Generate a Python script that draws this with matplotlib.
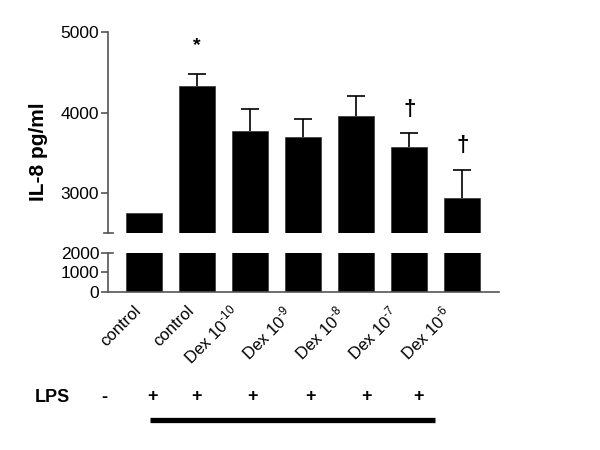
import matplotlib
matplotlib.use("Agg")
import matplotlib.pyplot as plt
from matplotlib.lines import Line2D
import matplotlib.transforms as mtransforms

plt.rcParams['font.family'] = ['Liberation Sans', 'DejaVu Sans']
plt.rcParams['mathtext.fontset'] = 'custom'
plt.rcParams['mathtext.rm'] = 'Liberation Sans'

# ---- data ----
categories = ['control', 'control', 'Dex 10$^{\\text{-10}}$', 'Dex 10$^{\\text{-9}}$',
              'Dex 10$^{\\text{-8}}$', 'Dex 10$^{\\text{-7}}$', 'Dex 10$^{\\text{-6}}$']
means = [2750, 4340, 3780, 3700, 3960, 3570, 2945]
errors = [0, 150, 270, 225, 245, 180, 350]
marks = ['', '*', '', '', '', '\u2020', '\u2020']
lps = ['-', '+', '+', '+', '+', '+', '+']
upper_ticks = [3000, 4000, 5000]
lower_ticks = [0, 1000, 2000]

# ---- layout ----
W, H = 600, 450
fig = plt.figure(figsize=(6, 4.5), dpi=100)
left, width = 108.3 / W, (499 - 108.3) / W
ax_up = fig.add_axes([left, 1 - 233.5 / H, width, (233.5 - 32.5) / H])
ax_lo = fig.add_axes([left, 1 - 291.7 / H, width, (291.7 - 253.3) / H])

x = list(range(len(means)))
spine_col = '#555555'
xlim = (-0.673, 6.69)
bar_w = 0.68

for ax in (ax_up, ax_lo):
    ax.bar(x, means, width=bar_w, color='black', edgecolor='#333333', linewidth=0.5, zorder=2)
    ax.set_xlim(*xlim)
    for s in ('top', 'right'):
        ax.spines[s].set_visible(False)
    ax.spines['left'].set_color(spine_col)
    ax.spines['left'].set_linewidth(1.2)
    ax.tick_params(axis='y', colors=spine_col, labelcolor='black', labelsize=12.5,
                   length=5, width=1.2, pad=1.5)

# error bars (upper direction only)
tops = [m + e for m, e in zip(means, errors)]
for i in x:
    if errors[i] > 0:
        ax_up.vlines(i, means[i], tops[i], color='black', lw=1.2, zorder=3)
        ax_up.hlines(tops[i], i - bar_w / 4, i + bar_w / 4, color='black', lw=1.2, zorder=3)

ax_up.set_ylim(2500, 5000)
ax_up.set_yticks(upper_ticks)
ax_up.spines['bottom'].set_visible(False)
ax_up.set_xticks([])

ax_lo.set_ylim(0, 2000)
ax_lo.set_yticks(lower_ticks)
ax_lo.spines['bottom'].set_color(spine_col)
ax_lo.spines['bottom'].set_linewidth(1.2)
ax_lo.set_xticks(x)
ax_lo.set_xticklabels([])
ax_lo.tick_params(axis='x', length=0)

# break marks
ax_up.add_line(Line2D([-0.011, 0.013], [0, 0], transform=ax_up.transAxes,
                      color=spine_col, lw=1.2, clip_on=False))
ax_lo.add_line(Line2D([0.0, 0.013], [1, 1], transform=ax_lo.transAxes,
                      color=spine_col, lw=1.2, clip_on=False))

# rotated category labels
for i, lab in enumerate(categories):
    dx = 0 if '$' not in lab else -6
    off = mtransforms.ScaledTranslation(dx / 100, -11 / 100, fig.dpi_scale_trans)
    ax_lo.text(i, 0, lab, rotation=45, ha='right', va='top', fontsize=12,
               transform=ax_lo.transData + off)

# significance marks
for i, m in enumerate(marks):
    if m:
        ax_up.annotate(m, xy=(i, tops[i]), xytext=(0, 20 if m == '*' else 17),
                       textcoords='offset points', ha='center', va='center',
                       fontsize=14 if m == '*' else 16, fontweight='bold', clip_on=False)

# y label
fig.text(39 / W, 1 - 152 / H, 'IL-8 pg/ml', rotation=90, ha='center', va='center',
         fontsize=15, fontweight='bold')

# LPS row
lps_x = [104, 152, 197, 253, 310, 367, 418]
fig.text(52 / W, 1 - 397 / H, 'LPS', ha='center', va='center', fontsize=13, fontweight='bold')
for px, s in zip(lps_x, lps):
    fig.text(px / W, 1 - 397 / H, s, ha='center', va='center', fontsize=13, fontweight='bold')
fig.add_artist(Line2D([150 / W, 435 / W], [1 - 420 / H, 1 - 420 / H],
                      transform=fig.transFigure, color='black', lw=3.8,
                      solid_capstyle='butt'))

fig.savefig('out.png', dpi=100)
